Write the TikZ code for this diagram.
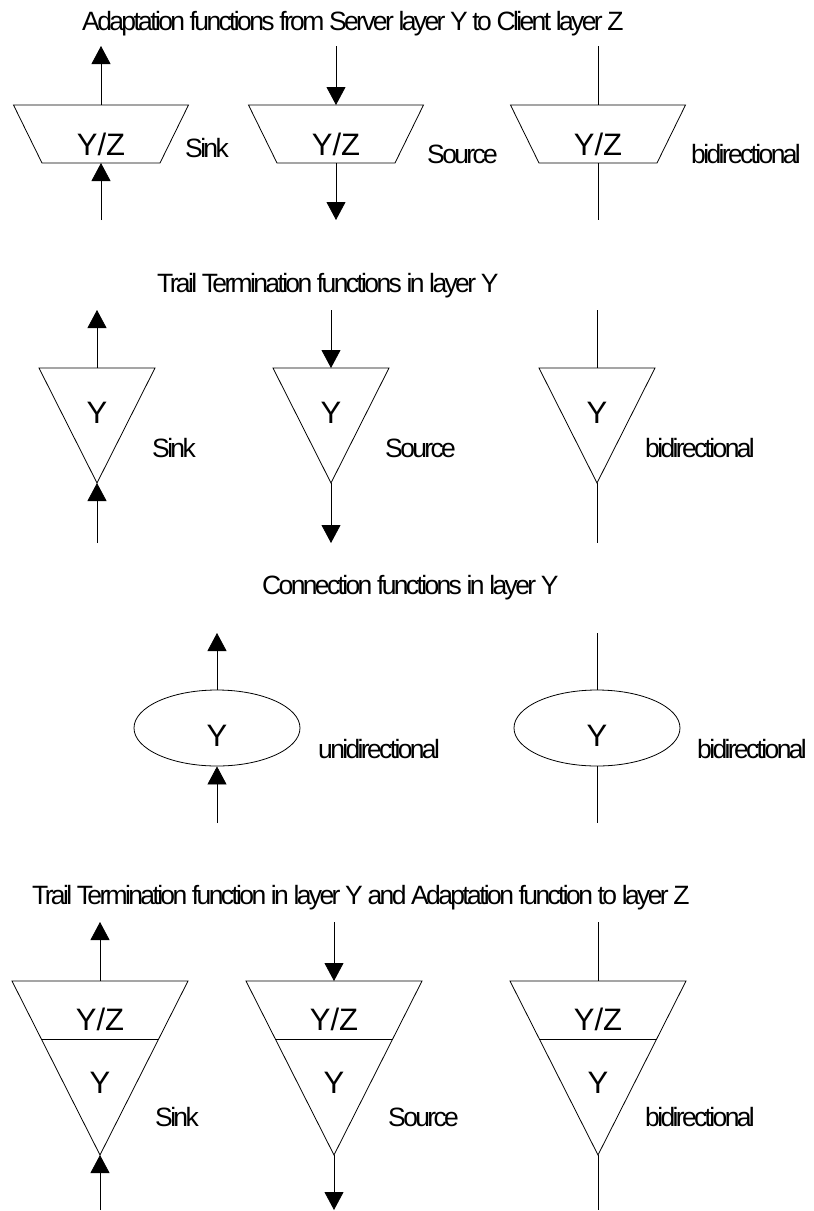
\documentclass[tikz,border=0pt]{standalone}
\usepackage{fontspec}
\setmainfont{Liberation Sans}
\newfontfamily\tightsans{Liberation Sans}[LetterSpace=-10]
\usetikzlibrary{arrows.meta,shapes.geometric}

\newcommand\lblfont{\tightsans\fontsize{26.5}{30}\selectfont}
\newcommand\symfont{\fontsize{31}{36}\selectfont}

\tikzset{
  wire/.style={line width=0.8pt},
  arr/.style={wire,-{Triangle[length=18pt,width=19pt]}},
  fnbox/.style={draw,line width=0.8pt,line join=miter},
  ttl/.style={font=\lblfont,anchor=base west,inner sep=0pt},
  lbl/.style={font=\lblfont,anchor=base west,inner sep=0pt},
  sym/.style={font=\symfont,anchor=base,inner sep=0pt},
  cfn/.style={draw,ellipse,line width=0.8pt,minimum width=166pt,minimum height=76pt,inner sep=0pt}
}

\begin{document}
\begin{tikzpicture}[x=1pt,y=-1pt]
\useasboundingbox (0,0) rectangle (814,1211);

% ---------- adaptation functions ----------
\node[ttl] (t1) at (82,30) {Adaptation functions from Server layer Y to Client layer Z};
\foreach \i/\x in {1/101,2/336,3/598}{
  \draw[fnbox] ({\x-87.5},105) -- ({\x+87.5},105) -- ({\x+59},163) -- ({\x-59},163) -- cycle;
  \coordinate (a\i t) at (\x,105);
  \coordinate (a\i b) at (\x,163);
  \coordinate (a\i u) at (\x,46);
  \coordinate (a\i d) at (\x,220);
  \node[sym] (a\i s) at (\x,155) {Y/Z};
}
\draw[arr] (a1t) -- (a1u);
\draw[arr] (a1d) -- (a1b);
\draw[arr] (a2u) -- (a2t);
\draw[arr] (a2b) -- (a2d);
\draw[wire] (a3u) -- (a3t);
\draw[wire] (a3b) -- (a3d);
\node[lbl] (a1l) at (185,157) {Sink};
\node[lbl] (a2l) at (427,163) {Source};
\node[lbl] (a3l) at (691,163) {bidirectional};

% ---------- trail termination functions ----------
\node[ttl] (t2) at (157,292) {Trail Termination functions in layer Y};
\foreach \i/\x in {1/97,2/331,3/597}{
  \draw[fnbox] ({\x-58},368) -- ({\x+58},368) -- (\x,483) -- cycle;
  \coordinate (b\i t) at (\x,368);
  \coordinate (b\i b) at (\x,483);
  \coordinate (b\i u) at (\x,310);
  \coordinate (b\i d) at (\x,543);
  \node[sym] (b\i s) at (\x,423) {Y};
}
\draw[arr] (b1t) -- (b1u);
\draw[arr] (b1d) -- (b1b);
\draw[arr] (b2u) -- (b2t);
\draw[arr] (b2b) -- (b2d);
\draw[wire] (b3u) -- (b3t);
\draw[wire] (b3b) -- (b3d);
\node[lbl] (b1l) at (152,457) {Sink};
\node[lbl] (b2l) at (385,457) {Source};
\node[lbl] (b3l) at (645,457) {bidirectional};

% ---------- connection functions ----------
\node[ttl] (t3) at (262,594) {Connection functions in layer Y};
\node[cfn] (c1) at (217,728) {};
\node[cfn] (c2) at (597,728) {};
\node[sym] (c1s) at (217,746) {Y};
\node[sym] (c2s) at (597,746) {Y};
\coordinate (c1u) at (217,633);
\coordinate (c1d) at (217,823);
\coordinate (c2u) at (597,633);
\coordinate (c2d) at (597,823);
\draw[arr] (c1.north) -- (c1u);
\draw[arr] (c1d) -- (c1.south);
\draw[wire] (c2u) -- (c2.north);
\draw[wire] (c2.south) -- (c2d);
\node[lbl] (c1l) at (318,758) {unidirectional};
\node[lbl] (c2l) at (697,758) {bidirectional};

% ---------- trail termination with adaptation ----------
\node[ttl] (t4) at (32,904) {Trail Termination function in layer Y and Adaptation function to layer Z};
\foreach \i/\x in {1/100,2/334,3/598}{
  \draw[fnbox] ({\x-88},981) -- ({\x+88},981) -- (\x,1155) -- cycle;
  \draw[wire] ({\x-58.7},1039) -- ({\x+58.7},1039);
  \coordinate (d\i t) at (\x,981);
  \coordinate (d\i b) at (\x,1155);
  \coordinate (d\i u) at (\x,922);
  \coordinate (d\i d) at (\x,1210);
  \node[sym] (d\i s) at (\x,1030) {Y/Z};
  \node[sym] (d\i y) at (\x,1093) {Y};
}
\draw[arr] (d1t) -- (d1u);
\draw[arr] (d1d) -- (d1b);
\draw[arr] (d2u) -- (d2t);
\draw[arr] (d2b) -- (d2d);
\draw[wire] (d3u) -- (d3t);
\draw[wire] (d3b) -- (d3d);
\node[lbl] (d1l) at (155,1126) {Sink};
\node[lbl] (d2l) at (388,1126) {Source};
\node[lbl] (d3l) at (645,1126) {bidirectional};
\end{tikzpicture}
\end{document}
